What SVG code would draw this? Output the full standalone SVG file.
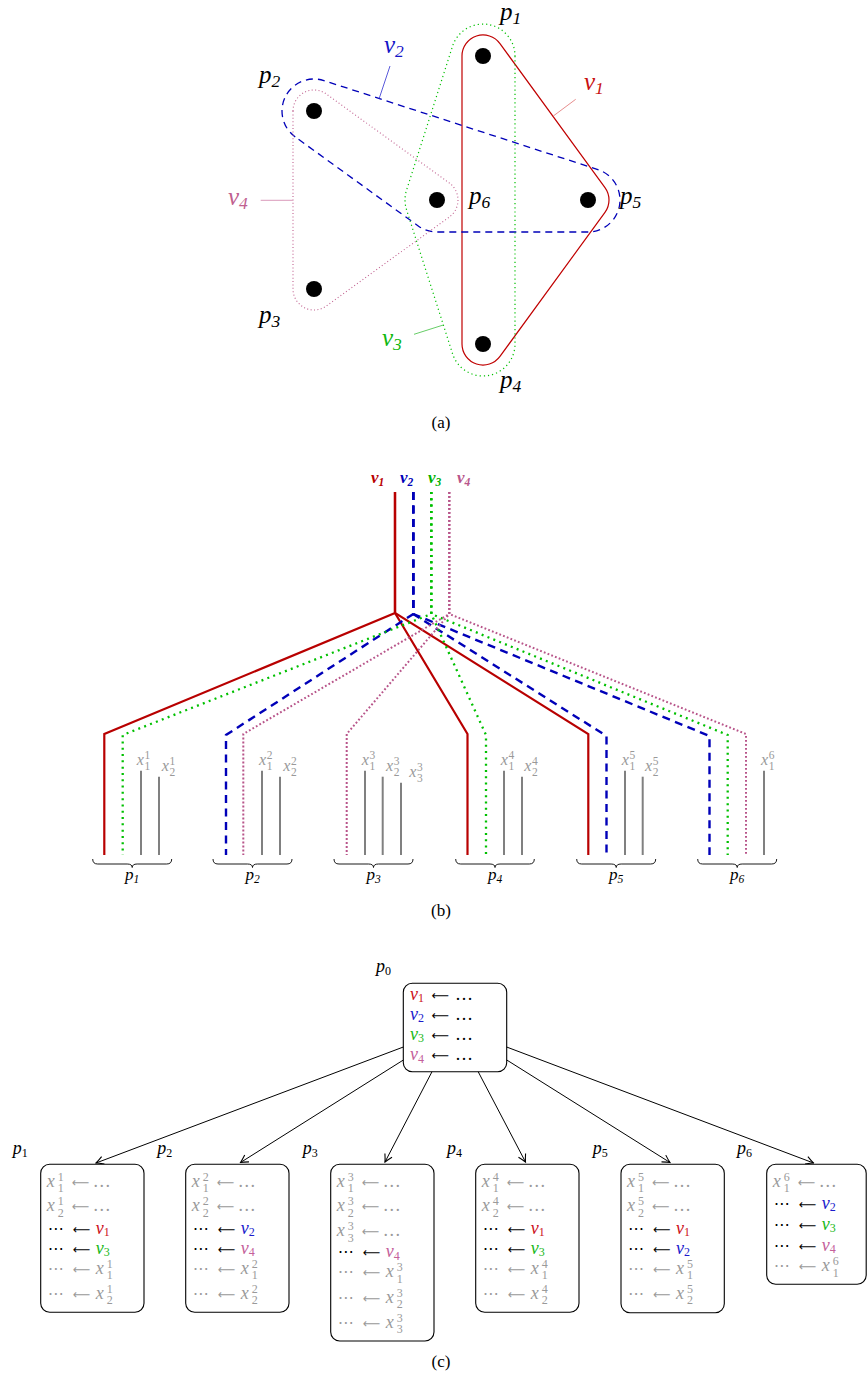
<svg xmlns="http://www.w3.org/2000/svg" width="867" height="1378" viewBox="0 0 867 1378">
<style>
.t{font-family:"Liberation Serif","DejaVu Serif",serif;font-size:18px;fill:#000}
.la{font-family:"Liberation Serif","DejaVu Serif",serif;font-size:25px;font-style:italic}
.lb{font-family:"Liberation Serif","DejaVu Serif",serif;font-size:17px;font-style:italic}
.xb{font-family:"Liberation Serif","DejaVu Serif",serif;font-size:16px;fill:#999}
.cap{font-family:"Liberation Serif","DejaVu Serif",serif;font-size:17px;text-anchor:middle}
.i{font-style:italic}
.n{font-style:normal}
.aw{font-family:"DejaVu Sans",sans-serif;font-size:13px}
.dd{font-family:"DejaVu Sans",sans-serif;font-size:16px}
.sc{font-size:12px}
.sa{font-size:17.5px}
.sb{font-size:11.5px}
.gr{fill:#9a9a9a}
.cr{fill:#cc1020}
.cb{fill:#1a1acc}
.cg{fill:#18b818}
.cp{fill:#c4609a}
.box{fill:#fff;stroke:#000;stroke-width:1.1}
.dot{fill:#000}
.gl{stroke:#808080;stroke-width:2;fill:none}
.br{stroke:#000;stroke-width:0.9;fill:none}
.e1{fill:none;stroke:#c00000;stroke-width:1.2}
.e2{fill:none;stroke:#0000b8;stroke-width:1.3;stroke-dasharray:7 5}
.e3{fill:none;stroke:#00c000;stroke-width:1.2;stroke-dasharray:1.2 3}
.e4{fill:none;stroke:#c0608f;stroke-width:1.1;stroke-dasharray:1 2.4}
.b1{fill:none;stroke:#b80000;stroke-width:2.2}
.b2{fill:none;stroke:#0000b8;stroke-width:2.4;stroke-dasharray:8 5.5}
.b3{fill:none;stroke:#00c000;stroke-width:2.3;stroke-dasharray:2 4.3}
.b4{fill:none;stroke:#b8558a;stroke-width:2;stroke-dasharray:1.8 2.2}
.ar{fill:none;stroke:#000;stroke-width:1;marker-end:url(#ah)}
</style>
<defs>
<marker id="ah" viewBox="-9 -6 10 12" refX="0" refY="0" markerWidth="10" markerHeight="12" markerUnits="userSpaceOnUse" orient="auto">
<path d="M -7.5 -4 Q -2.5 -1 0 0 Q -2.5 1 -7.5 4" fill="none" stroke="#000" stroke-width="1.1"/>
</marker>
</defs>

<!-- ===== Part (a) ===== -->
<g id="a-hyperedges">
<path class="e1" d="M 462 56 A 21 21 0 0 1 499.97 43.63 L 604.97 187.63 A 21 21 0 0 1 604.97 212.37 L 499.97 356.37 A 21 21 0 0 1 462 344 Z"/>
<path class="e2" d="M 295.24 136.93 A 32 32 0 0 1 323.89 80.57 L 597.89 169.57 A 32 32 0 0 1 588 232 L 437 232 A 32 32 0 0 1 418.24 225.93 Z"/>
<path class="e3" d="M 515 56 L 515 344 A 32 32 0 0 1 452.53 353.74 L 406.53 209.74 A 32 32 0 0 1 406.53 190.26 L 452.53 46.26 A 32 32 0 0 1 515 56 Z"/>
<path class="e4" d="M 293 111 A 21 21 0 0 1 326.31 93.99 L 449.31 182.99 A 21 21 0 0 1 449.31 217.01 L 326.31 306.01 A 21 21 0 0 1 293 289 Z"/>
<line x1="390" y1="66" x2="379" y2="99" stroke="#3030d0" stroke-width="0.8"/>
<line x1="575.7" y1="99.3" x2="553.3" y2="116" stroke="#e07070" stroke-width="0.8"/>
<line x1="260.7" y1="200.3" x2="292.7" y2="200.3" stroke="#d080a8" stroke-width="0.8"/>
<line x1="414" y1="334.3" x2="443.3" y2="325" stroke="#40c040" stroke-width="0.8"/>
<text class="la" x="384" y="53" fill="#1515c8">v<tspan class="sa" dy="3.5">2</tspan></text>
<text class="la" x="584" y="90" fill="#c81010">v<tspan class="sa" dy="3.5">1</tspan></text>
<text class="la" x="228" y="205" fill="#c0608f">v<tspan class="sa" dy="3.5">4</tspan></text>
<text class="la" x="382" y="346" fill="#10b810">v<tspan class="sa" dy="3.5">3</tspan></text>
</g>
<g id="a-p1"><circle class="dot" cx="483" cy="56" r="8"/><text class="la" x="500" y="20">p<tspan class="sa" dy="3.5">1</tspan></text></g>
<g id="a-p2"><circle class="dot" cx="314" cy="111" r="8"/><text class="la" x="259" y="83">p<tspan class="sa" dy="3.5">2</tspan></text></g>
<g id="a-p3"><circle class="dot" cx="314" cy="289" r="8"/><text class="la" x="259" y="323">p<tspan class="sa" dy="3.5">3</tspan></text></g>
<g id="a-p4"><circle class="dot" cx="483" cy="344" r="8"/><text class="la" x="500" y="388">p<tspan class="sa" dy="3.5">4</tspan></text></g>
<g id="a-p5"><circle class="dot" cx="588" cy="200" r="8"/><text class="la" x="620" y="204">p<tspan class="sa" dy="3.5">5</tspan></text></g>
<g id="a-p6"><circle class="dot" cx="437" cy="200" r="8"/><text class="la" x="469" y="204">p<tspan class="sa" dy="3.5">6</tspan></text></g>
<text class="cap" x="441" y="428">(a)</text>

<!-- ===== Part (b) ===== -->
<g id="b-connectors">
<path class="b1" d="M 395 492 L 395 613 L 104.3 734 L 104.3 855"/>
<path class="b1" d="M 395 492 L 395 613 L 467.5 734 L 467.5 855"/>
<path class="b1" d="M 395 492 L 395 613 L 588.3 734 L 588.3 855"/>
<path class="b2" d="M 413.3 492 L 413.3 614 L 226 735 L 226 855"/>
<path class="b2" d="M 413.3 492 L 413.3 614 L 606.5 736 L 606.5 855"/>
<path class="b2" d="M 413.3 492 L 413.3 614 L 709.5 736 L 709.5 855"/>
<path class="b3" d="M 431.3 492 L 431.3 614 L 122.7 735 L 122.7 855"/>
<path class="b3" d="M 431.3 492 L 431.3 614 L 486 735 L 486 855"/>
<path class="b3" d="M 431.3 492 L 431.3 614 L 727.7 735 L 727.7 855"/>
<path class="b4" d="M 449.3 492 L 449.3 614 L 243.3 734 L 243.3 855"/>
<path class="b4" d="M 449.3 492 L 449.3 614 L 346.7 734 L 346.7 855"/>
<path class="b4" d="M 449.3 492 L 449.3 614 L 746 734 L 746 855"/>
</g>
<g id="b-vars" class="lb" font-weight="bold">
<text x="371" y="483" fill="#b80000">v<tspan class="sb" dy="2.5">1</tspan></text>
<text x="400" y="483" fill="#0000b8">v<tspan class="sb" dy="2.5">2</tspan></text>
<text x="428" y="483" fill="#00b000">v<tspan class="sb" dy="2.5">3</tspan></text>
<text x="457" y="483" fill="#b8558a">v<tspan class="sb" dy="2.5">4</tspan></text>
</g>
<g id="b-p1">
<line class="gl" x1="141" y1="770.7" x2="141" y2="855"/><line class="gl" x1="159" y1="776.7" x2="159" y2="855"/>
<text class="xb" y="765"><tspan class="i" x="136.7">x</tspan><tspan class="sb" x="144.5" dy="-6">1</tspan><tspan class="sb" x="144.5" dy="10.5">1</tspan></text>
<text class="xb" y="771"><tspan class="i" x="161.7">x</tspan><tspan class="sb" x="169.5" dy="-6">1</tspan><tspan class="sb" x="169.5" dy="10.5">2</tspan></text>
<path class="br" d="M 92.7 859 Q 92.7 864 97.7 864 L 127.2 864 Q 132.2 864 132.2 867.5 Q 132.2 864 137.2 864 L 166.7 864 Q 171.7 864 171.7 859"/>
<text class="lb" x="132.2" y="880" text-anchor="middle">p<tspan class="sb" dy="2.5">1</tspan></text>
</g>
<g id="b-p2">
<line class="gl" x1="262" y1="770.7" x2="262" y2="855"/><line class="gl" x1="280" y1="776.7" x2="280" y2="855"/>
<text class="xb" y="765"><tspan class="i" x="259">x</tspan><tspan class="sb" x="266.8" dy="-6">2</tspan><tspan class="sb" x="266.8" dy="10.5">1</tspan></text>
<text class="xb" y="771"><tspan class="i" x="283.3">x</tspan><tspan class="sb" x="291.1" dy="-6">2</tspan><tspan class="sb" x="291.1" dy="10.5">2</tspan></text>
<path class="br" d="M 213 859 Q 213 864 218 864 L 247.5 864 Q 252.5 864 252.5 867.5 Q 252.5 864 257.5 864 L 287 864 Q 292 864 292 859"/>
<text class="lb" x="252.5" y="880" text-anchor="middle">p<tspan class="sb" dy="2.5">2</tspan></text>
</g>
<g id="b-p3">
<line class="gl" x1="365" y1="770.7" x2="365" y2="855"/><line class="gl" x1="382.7" y1="776.7" x2="382.7" y2="855"/><line class="gl" x1="401" y1="782.7" x2="401" y2="855"/>
<text class="xb" y="765"><tspan class="i" x="361.7">x</tspan><tspan class="sb" x="369.5" dy="-6">3</tspan><tspan class="sb" x="369.5" dy="10.5">1</tspan></text>
<text class="xb" y="771"><tspan class="i" x="386">x</tspan><tspan class="sb" x="393.8" dy="-6">3</tspan><tspan class="sb" x="393.8" dy="10.5">2</tspan></text>
<text class="xb" y="777"><tspan class="i" x="409.3">x</tspan><tspan class="sb" x="417.1" dy="-6">3</tspan><tspan class="sb" x="417.1" dy="10.5">3</tspan></text>
<path class="br" d="M 334 859 Q 334 864 339 864 L 368.5 864 Q 373.5 864 373.5 867.5 Q 373.5 864 378.5 864 L 408 864 Q 413 864 413 859"/>
<text class="lb" x="373.5" y="880" text-anchor="middle">p<tspan class="sb" dy="2.5">3</tspan></text>
</g>
<g id="b-p4">
<line class="gl" x1="504" y1="770.7" x2="504" y2="855"/><line class="gl" x1="522" y1="776.7" x2="522" y2="855"/>
<text class="xb" y="765"><tspan class="i" x="500.7">x</tspan><tspan class="sb" x="508.5" dy="-6">4</tspan><tspan class="sb" x="508.5" dy="10.5">1</tspan></text>
<text class="xb" y="771"><tspan class="i" x="524.3">x</tspan><tspan class="sb" x="532.1" dy="-6">4</tspan><tspan class="sb" x="532.1" dy="10.5">2</tspan></text>
<path class="br" d="M 455.7 859 Q 455.7 864 460.7 864 L 490 864 Q 495 864 495 867.5 Q 495 864 500 864 L 529.3 864 Q 534.3 864 534.3 859"/>
<text class="lb" x="495" y="880" text-anchor="middle">p<tspan class="sb" dy="2.5">4</tspan></text>
</g>
<g id="b-p5">
<line class="gl" x1="625" y1="770.7" x2="625" y2="855"/><line class="gl" x1="642.7" y1="776.7" x2="642.7" y2="855"/>
<text class="xb" y="765"><tspan class="i" x="621.7">x</tspan><tspan class="sb" x="629.5" dy="-6">5</tspan><tspan class="sb" x="629.5" dy="10.5">1</tspan></text>
<text class="xb" y="771"><tspan class="i" x="645">x</tspan><tspan class="sb" x="652.8" dy="-6">5</tspan><tspan class="sb" x="652.8" dy="10.5">2</tspan></text>
<path class="br" d="M 576.7 859 Q 576.7 864 581.7 864 L 611.2 864 Q 616.2 864 616.2 867.5 Q 616.2 864 621.2 864 L 650.7 864 Q 655.7 864 655.7 859"/>
<text class="lb" x="616.2" y="880" text-anchor="middle">p<tspan class="sb" dy="2.5">5</tspan></text>
</g>
<g id="b-p6">
<line class="gl" x1="764" y1="770.7" x2="764" y2="855"/>
<text class="xb" y="765"><tspan class="i" x="761">x</tspan><tspan class="sb" x="768.8" dy="-6">6</tspan><tspan class="sb" x="768.8" dy="10.5">1</tspan></text>
<path class="br" d="M 697.7 859 Q 697.7 864 702.7 864 L 732.2 864 Q 737.2 864 737.2 867.5 Q 737.2 864 742.2 864 L 771.7 864 Q 776.7 864 776.7 859"/>
<text class="lb" x="737.2" y="880" text-anchor="middle">p<tspan class="sb" dy="2.5">6</tspan></text>
</g>
<text class="cap" x="441" y="916">(b)</text>

<!-- ===== Part (c) ===== -->
<g id="c-connectors">
<line class="ar" x1="455" y1="1027.5" x2="96" y2="1163"/>
<line class="ar" x1="455" y1="1027.5" x2="240.5" y2="1162.5"/>
<line class="ar" x1="455" y1="1027.5" x2="385" y2="1162"/>
<line class="ar" x1="455" y1="1027.5" x2="525.5" y2="1162"/>
<line class="ar" x1="455" y1="1027.5" x2="670" y2="1162.5"/>
<line class="ar" x1="455" y1="1027.5" x2="813.5" y2="1163"/>
</g>
<g id="c-p0">
<text class="t i" x="376" y="972">p<tspan class="sc n" dy="3">0</tspan></text>
<rect class="box" x="403.3" y="983.3" width="103.4" height="88.4" rx="9"/>
<text class="t" y="999.5"><tspan x="410" class="i cr">v</tspan><tspan class="sc cr" dy="2.5">1</tspan><tspan x="455" dy="-2.5">…</tspan></text>
<text class="t" y="1019.5"><tspan x="410" class="i cb">v</tspan><tspan class="sc cb" dy="2.5">2</tspan><tspan x="455" dy="-2.5">…</tspan></text>
<text class="t" y="1039.5"><tspan x="410" class="i cg">v</tspan><tspan class="sc cg" dy="2.5">3</tspan><tspan x="455" dy="-2.5">…</tspan></text>
<text class="t" y="1060"><tspan x="410" class="i cp">v</tspan><tspan class="sc cp" dy="2.5">4</tspan><tspan x="455" dy="-2.5">…</tspan></text>
<text class="aw" x="431.5" y="999.5" textLength="17.5" lengthAdjust="spacingAndGlyphs">⟵</text>
<text class="aw" x="431.5" y="1019.5" textLength="17.5" lengthAdjust="spacingAndGlyphs">⟵</text>
<text class="aw" x="431.5" y="1039.5" textLength="17.5" lengthAdjust="spacingAndGlyphs">⟵</text>
<text class="aw" x="431.5" y="1060" textLength="17.5" lengthAdjust="spacingAndGlyphs">⟵</text>
</g>
<g id="c-p1">
<text class="t i" x="12.7" y="1154">p<tspan class="sc n" dy="3">1</tspan></text>
<rect class="box" x="40.7" y="1164.3" width="103.3" height="148" rx="9"/>
<text class="t gr" y="1186.5"><tspan class="i" x="46.7">x</tspan><tspan class="sc" x="57.7" dy="-6">1</tspan><tspan class="sc" x="57.7" dy="11.5">1</tspan><tspan x="92.7" dy="-5.5">…</tspan></text>
<text class="t gr" y="1211"><tspan class="i" x="46.7">x</tspan><tspan class="sc" x="57.7" dy="-6">1</tspan><tspan class="sc" x="57.7" dy="11.5">2</tspan><tspan x="92.7" dy="-5.5">…</tspan></text>
<text class="t" y="1233.5"><tspan class="dd" x="47.7">⋯</tspan><tspan x="95.7" class="i cr">v</tspan><tspan class="sc cr" dy="2.5">1</tspan></text>
<text class="t" y="1253.5"><tspan class="dd" x="47.7">⋯</tspan><tspan x="95.7" class="i cg">v</tspan><tspan class="sc cg" dy="2.5">3</tspan></text>
<text class="t gr" y="1273.5"><tspan class="dd" x="47.7">⋯</tspan><tspan x="95.7" class="i">x</tspan><tspan class="sc" x="106.7" dy="-6">1</tspan><tspan class="sc" x="106.7" dy="11.5">1</tspan></text>
<text class="t gr" y="1298.5"><tspan class="dd" x="47.7">⋯</tspan><tspan x="95.7" class="i">x</tspan><tspan class="sc" x="106.7" dy="-6">1</tspan><tspan class="sc" x="106.7" dy="11.5">2</tspan></text>
<text class="aw gr" x="71.7" y="1186.5" textLength="17.5" lengthAdjust="spacingAndGlyphs">⟵</text>
<text class="aw gr" x="71.7" y="1211" textLength="17.5" lengthAdjust="spacingAndGlyphs">⟵</text>
<text class="aw" x="72.7" y="1233.5" textLength="17.5" lengthAdjust="spacingAndGlyphs">⟵</text>
<text class="aw" x="72.7" y="1253.5" textLength="17.5" lengthAdjust="spacingAndGlyphs">⟵</text>
<text class="aw gr" x="72.7" y="1273.5" textLength="17.5" lengthAdjust="spacingAndGlyphs">⟵</text>
<text class="aw gr" x="72.7" y="1298.5" textLength="17.5" lengthAdjust="spacingAndGlyphs">⟵</text>
</g>
<g id="c-p2">
<text class="t i" x="157.3" y="1154">p<tspan class="sc n" dy="3">2</tspan></text>
<rect class="box" x="185.7" y="1164.3" width="103.3" height="148" rx="9"/>
<text class="t gr" y="1186.5"><tspan class="i" x="191.7">x</tspan><tspan class="sc" x="202.7" dy="-6">2</tspan><tspan class="sc" x="202.7" dy="11.5">1</tspan><tspan x="237.7" dy="-5.5">…</tspan></text>
<text class="t gr" y="1211"><tspan class="i" x="191.7">x</tspan><tspan class="sc" x="202.7" dy="-6">2</tspan><tspan class="sc" x="202.7" dy="11.5">2</tspan><tspan x="237.7" dy="-5.5">…</tspan></text>
<text class="t" y="1233.5"><tspan class="dd" x="192.7">⋯</tspan><tspan x="240.7" class="i cb">v</tspan><tspan class="sc cb" dy="2.5">2</tspan></text>
<text class="t" y="1253.5"><tspan class="dd" x="192.7">⋯</tspan><tspan x="240.7" class="i cp">v</tspan><tspan class="sc cp" dy="2.5">4</tspan></text>
<text class="t gr" y="1273.5"><tspan class="dd" x="192.7">⋯</tspan><tspan x="240.7" class="i">x</tspan><tspan class="sc" x="251.7" dy="-6">2</tspan><tspan class="sc" x="251.7" dy="11.5">1</tspan></text>
<text class="t gr" y="1298.5"><tspan class="dd" x="192.7">⋯</tspan><tspan x="240.7" class="i">x</tspan><tspan class="sc" x="251.7" dy="-6">2</tspan><tspan class="sc" x="251.7" dy="11.5">2</tspan></text>
<text class="aw gr" x="216.7" y="1186.5" textLength="17.5" lengthAdjust="spacingAndGlyphs">⟵</text>
<text class="aw gr" x="216.7" y="1211" textLength="17.5" lengthAdjust="spacingAndGlyphs">⟵</text>
<text class="aw" x="217.7" y="1233.5" textLength="17.5" lengthAdjust="spacingAndGlyphs">⟵</text>
<text class="aw" x="217.7" y="1253.5" textLength="17.5" lengthAdjust="spacingAndGlyphs">⟵</text>
<text class="aw gr" x="217.7" y="1273.5" textLength="17.5" lengthAdjust="spacingAndGlyphs">⟵</text>
<text class="aw gr" x="217.7" y="1298.5" textLength="17.5" lengthAdjust="spacingAndGlyphs">⟵</text>
</g>
<g id="c-p3">
<text class="t i" x="302.7" y="1154">p<tspan class="sc n" dy="3">3</tspan></text>
<rect class="box" x="330.7" y="1164.3" width="103.3" height="176.7" rx="9"/>
<text class="t gr" y="1186.5"><tspan class="i" x="336.7">x</tspan><tspan class="sc" x="347.7" dy="-6">3</tspan><tspan class="sc" x="347.7" dy="11.5">1</tspan><tspan x="382.7" dy="-5.5">…</tspan></text>
<text class="t gr" y="1211"><tspan class="i" x="336.7">x</tspan><tspan class="sc" x="347.7" dy="-6">3</tspan><tspan class="sc" x="347.7" dy="11.5">2</tspan><tspan x="382.7" dy="-5.5">…</tspan></text>
<text class="t gr" y="1236"><tspan class="i" x="336.7">x</tspan><tspan class="sc" x="347.7" dy="-6">3</tspan><tspan class="sc" x="347.7" dy="11.5">3</tspan><tspan x="382.7" dy="-5.5">…</tspan></text>
<text class="t" y="1257"><tspan class="dd" x="337.7">⋯</tspan><tspan x="385.7" class="i cp">v</tspan><tspan class="sc cp" dy="2.5">4</tspan></text>
<text class="t gr" y="1277"><tspan class="dd" x="337.7">⋯</tspan><tspan x="385.7" class="i">x</tspan><tspan class="sc" x="396.7" dy="-6">3</tspan><tspan class="sc" x="396.7" dy="11.5">1</tspan></text>
<text class="t gr" y="1302.5"><tspan class="dd" x="337.7">⋯</tspan><tspan x="385.7" class="i">x</tspan><tspan class="sc" x="396.7" dy="-6">3</tspan><tspan class="sc" x="396.7" dy="11.5">2</tspan></text>
<text class="t gr" y="1327.5"><tspan class="dd" x="337.7">⋯</tspan><tspan x="385.7" class="i">x</tspan><tspan class="sc" x="396.7" dy="-6">3</tspan><tspan class="sc" x="396.7" dy="11.5">3</tspan></text>
<text class="aw gr" x="361.7" y="1186.5" textLength="17.5" lengthAdjust="spacingAndGlyphs">⟵</text>
<text class="aw gr" x="361.7" y="1211" textLength="17.5" lengthAdjust="spacingAndGlyphs">⟵</text>
<text class="aw gr" x="361.7" y="1236" textLength="17.5" lengthAdjust="spacingAndGlyphs">⟵</text>
<text class="aw" x="362.7" y="1257" textLength="17.5" lengthAdjust="spacingAndGlyphs">⟵</text>
<text class="aw gr" x="362.7" y="1277" textLength="17.5" lengthAdjust="spacingAndGlyphs">⟵</text>
<text class="aw gr" x="362.7" y="1302.5" textLength="17.5" lengthAdjust="spacingAndGlyphs">⟵</text>
<text class="aw gr" x="362.7" y="1327.5" textLength="17.5" lengthAdjust="spacingAndGlyphs">⟵</text>
</g>
<g id="c-p4">
<text class="t i" x="447" y="1154">p<tspan class="sc n" dy="3">4</tspan></text>
<rect class="box" x="475.7" y="1164.3" width="103.3" height="148" rx="9"/>
<text class="t gr" y="1186.5"><tspan class="i" x="481.7">x</tspan><tspan class="sc" x="492.7" dy="-6">4</tspan><tspan class="sc" x="492.7" dy="11.5">1</tspan><tspan x="527.7" dy="-5.5">…</tspan></text>
<text class="t gr" y="1211"><tspan class="i" x="481.7">x</tspan><tspan class="sc" x="492.7" dy="-6">4</tspan><tspan class="sc" x="492.7" dy="11.5">2</tspan><tspan x="527.7" dy="-5.5">…</tspan></text>
<text class="t" y="1233.5"><tspan class="dd" x="482.7">⋯</tspan><tspan x="530.7" class="i cr">v</tspan><tspan class="sc cr" dy="2.5">1</tspan></text>
<text class="t" y="1253.5"><tspan class="dd" x="482.7">⋯</tspan><tspan x="530.7" class="i cg">v</tspan><tspan class="sc cg" dy="2.5">3</tspan></text>
<text class="t gr" y="1273.5"><tspan class="dd" x="482.7">⋯</tspan><tspan x="530.7" class="i">x</tspan><tspan class="sc" x="541.7" dy="-6">4</tspan><tspan class="sc" x="541.7" dy="11.5">1</tspan></text>
<text class="t gr" y="1298.5"><tspan class="dd" x="482.7">⋯</tspan><tspan x="530.7" class="i">x</tspan><tspan class="sc" x="541.7" dy="-6">4</tspan><tspan class="sc" x="541.7" dy="11.5">2</tspan></text>
<text class="aw gr" x="506.7" y="1186.5" textLength="17.5" lengthAdjust="spacingAndGlyphs">⟵</text>
<text class="aw gr" x="506.7" y="1211" textLength="17.5" lengthAdjust="spacingAndGlyphs">⟵</text>
<text class="aw" x="507.7" y="1233.5" textLength="17.5" lengthAdjust="spacingAndGlyphs">⟵</text>
<text class="aw" x="507.7" y="1253.5" textLength="17.5" lengthAdjust="spacingAndGlyphs">⟵</text>
<text class="aw gr" x="507.7" y="1273.5" textLength="17.5" lengthAdjust="spacingAndGlyphs">⟵</text>
<text class="aw gr" x="507.7" y="1298.5" textLength="17.5" lengthAdjust="spacingAndGlyphs">⟵</text>
</g>
<g id="c-p5">
<text class="t i" x="592.7" y="1154">p<tspan class="sc n" dy="3">5</tspan></text>
<rect class="box" x="621" y="1164.3" width="103.3" height="148.5" rx="9"/>
<text class="t gr" y="1186.5"><tspan class="i" x="627">x</tspan><tspan class="sc" x="638" dy="-6">5</tspan><tspan class="sc" x="638" dy="11.5">1</tspan><tspan x="673" dy="-5.5">…</tspan></text>
<text class="t gr" y="1211"><tspan class="i" x="627">x</tspan><tspan class="sc" x="638" dy="-6">5</tspan><tspan class="sc" x="638" dy="11.5">2</tspan><tspan x="673" dy="-5.5">…</tspan></text>
<text class="t" y="1233.5"><tspan class="dd" x="628">⋯</tspan><tspan x="676" class="i cr">v</tspan><tspan class="sc cr" dy="2.5">1</tspan></text>
<text class="t" y="1253.5"><tspan class="dd" x="628">⋯</tspan><tspan x="676" class="i cb">v</tspan><tspan class="sc cb" dy="2.5">2</tspan></text>
<text class="t gr" y="1273.5"><tspan class="dd" x="628">⋯</tspan><tspan x="676" class="i">x</tspan><tspan class="sc" x="687" dy="-6">5</tspan><tspan class="sc" x="687" dy="11.5">1</tspan></text>
<text class="t gr" y="1298.5"><tspan class="dd" x="628">⋯</tspan><tspan x="676" class="i">x</tspan><tspan class="sc" x="687" dy="-6">5</tspan><tspan class="sc" x="687" dy="11.5">2</tspan></text>
<text class="aw gr" x="652" y="1186.5" textLength="17.5" lengthAdjust="spacingAndGlyphs">⟵</text>
<text class="aw gr" x="652" y="1211" textLength="17.5" lengthAdjust="spacingAndGlyphs">⟵</text>
<text class="aw" x="653" y="1233.5" textLength="17.5" lengthAdjust="spacingAndGlyphs">⟵</text>
<text class="aw" x="653" y="1253.5" textLength="17.5" lengthAdjust="spacingAndGlyphs">⟵</text>
<text class="aw gr" x="653" y="1273.5" textLength="17.5" lengthAdjust="spacingAndGlyphs">⟵</text>
<text class="aw gr" x="653" y="1298.5" textLength="17.5" lengthAdjust="spacingAndGlyphs">⟵</text>
</g>
<g id="c-p6">
<text class="t i" x="737" y="1154">p<tspan class="sc n" dy="3">6</tspan></text>
<rect class="box" x="766.7" y="1164.3" width="99.5" height="120" rx="9"/>
<text class="t gr" y="1186.5"><tspan class="i" x="772.7">x</tspan><tspan class="sc" x="783.7" dy="-6">6</tspan><tspan class="sc" x="783.7" dy="11.5">1</tspan><tspan x="818.7" dy="-5.5">…</tspan></text>
<text class="t" y="1208.5"><tspan class="dd" x="773.7">⋯</tspan><tspan x="821.7" class="i cb">v</tspan><tspan class="sc cb" dy="2.5">2</tspan></text>
<text class="t" y="1229.5"><tspan class="dd" x="773.7">⋯</tspan><tspan x="821.7" class="i cg">v</tspan><tspan class="sc cg" dy="2.5">3</tspan></text>
<text class="t" y="1250.5"><tspan class="dd" x="773.7">⋯</tspan><tspan x="821.7" class="i cp">v</tspan><tspan class="sc cp" dy="2.5">4</tspan></text>
<text class="t gr" y="1271"><tspan class="dd" x="773.7">⋯</tspan><tspan x="821.7" class="i">x</tspan><tspan class="sc" x="832.7" dy="-6">6</tspan><tspan class="sc" x="832.7" dy="11.5">1</tspan></text>
<text class="aw gr" x="797.7" y="1186.5" textLength="17.5" lengthAdjust="spacingAndGlyphs">⟵</text>
<text class="aw" x="798.7" y="1208.5" textLength="17.5" lengthAdjust="spacingAndGlyphs">⟵</text>
<text class="aw" x="798.7" y="1229.5" textLength="17.5" lengthAdjust="spacingAndGlyphs">⟵</text>
<text class="aw" x="798.7" y="1250.5" textLength="17.5" lengthAdjust="spacingAndGlyphs">⟵</text>
<text class="aw gr" x="798.7" y="1271" textLength="17.5" lengthAdjust="spacingAndGlyphs">⟵</text>
</g>
<text class="cap" x="441" y="1367">(c)</text>
</svg>
